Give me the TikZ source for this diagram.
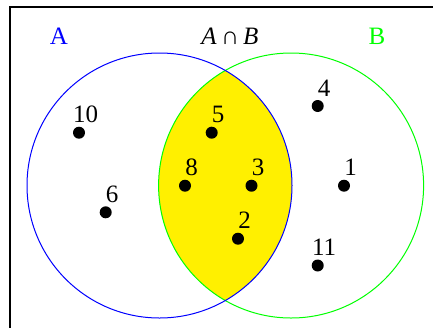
\documentclass[tikz,border=0pt]{standalone}
\usepackage{fontspec}
\setmainfont{Liberation Serif}
\usetikzlibrary{positioning}
\definecolor{venyellow}{RGB}{255,240,0}
\tikzset{
  elem/.style={circle, fill=black, inner sep=0pt, minimum size=12pt},
  elemlab/.style={inner sep=0pt},
  setline/.style={line width=1pt},
}

\begin{document}
\begin{tikzpicture}[x=1pt, y=-1pt, font=\fontsize{25}{30}\selectfont]
\useasboundingbox (0,0) rectangle (433,327);
\begin{scope}
  \clip (0,0) rectangle (433,327);
  \draw[line width=2pt] (450,7) -- (10,7) -- (10,345);
\end{scope}
% shaded intersection
\begin{scope}
  \clip (159.5,185.5) circle (132.5pt);
  \fill[venyellow] (291.1,185.5) circle (132.5pt);
\end{scope}
\draw[setline, green] (291.1,185.5) circle (132.5pt);
\draw[setline, blue] (159.5,185.5) circle (132.5pt);
\node[elemlab, text=blue] (labA) at (59,36.3) {A};
\node[elemlab] (labAB) at (230,36.5) {\textit{A}\,∩\,\textit{B}};
\node[elemlab, text=green] (labB) at (377,36.3) {B};
\foreach \n/\x/\y in {10/79/132.7, 6/105.7/212.3, 5/211.7/132.7, 8/185/185.7, 3/251.5/185.7,
                      2/238/238.7, 4/317.7/106, 1/344/185.7, 11/317.7/265.5} {
  \node[elem] (dot\n) at (\x,\y) {};
  \node[elemlab] (lab\n) at ([shift={(6.5,-18)}]dot\n.center) {\n};
}
\end{tikzpicture}
\end{document}
